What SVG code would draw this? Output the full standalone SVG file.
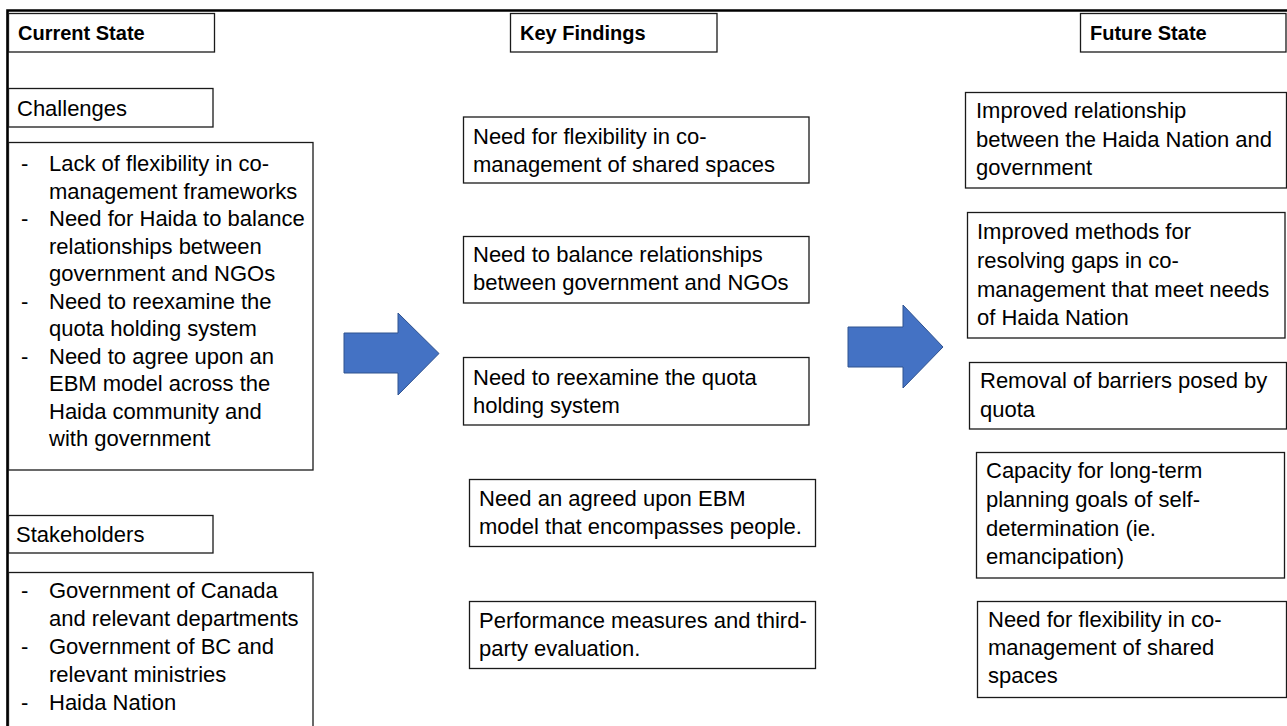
<svg xmlns="http://www.w3.org/2000/svg" width="1287" height="726" viewBox="0 0 1287 726">
  <style>
    .box { fill: #ffffff; stroke: #1a1a1a; stroke-width: 1.3; }
    .frame { fill: none; stroke: #000000; stroke-width: 2.6; }
    .t { font-family: "Liberation Sans", Arial, sans-serif; font-size: 22px; fill: #000000; }
    .h { font-family: "Liberation Sans", Arial, sans-serif; font-size: 20px; font-weight: bold; fill: #000000; }
    .arrow { fill: #4472C4; stroke: #2F528F; stroke-width: 1; }
  </style>

  <rect width="1287" height="726" fill="#ffffff"/>

  <!-- outer frame: top and left rules -->
  <path class="frame" d="M7.5,740 V10.5 H1290"/>

  <!-- column headings -->
  <g id="current-state">
    <rect class="box" x="8.5" y="13.5" width="206" height="38.5"/>
    <text class="h" x="18" y="40">Current State</text>
  </g>
  <g id="key-findings">
    <rect class="box" x="510.5" y="13.5" width="206.5" height="38.5"/>
    <text class="h" x="520" y="40">Key Findings</text>
  </g>
  <g id="future-state">
    <rect class="box" x="1080.5" y="13.5" width="205.5" height="38.5"/>
    <text class="h" x="1090" y="40">Future State</text>
  </g>

  <!-- current state column -->
  <g id="challenges">
    <rect class="box" x="8.5" y="88.5" width="204.5" height="38.5"/>
    <text class="t" x="17" y="116">Challenges</text>
  </g>
  <g id="challenges-list">
    <rect class="box" x="8.5" y="142.5" width="304.5" height="327.5"/>
    <g class="t">
      <text x="21" y="171">-</text>
      <text x="49" y="171">Lack of flexibility in co-</text>
      <text x="49" y="198.5">management frameworks</text>
      <text x="21" y="226">-</text>
      <text x="49" y="226">Need for Haida to balance</text>
      <text x="49" y="253.5">relationships between</text>
      <text x="49" y="281">government and NGOs</text>
      <text x="21" y="308.5">-</text>
      <text x="49" y="308.5">Need to reexamine the</text>
      <text x="49" y="336">quota holding system</text>
      <text x="21" y="363.5">-</text>
      <text x="49" y="363.5">Need to agree upon an</text>
      <text x="49" y="391">EBM model across the</text>
      <text x="49" y="418.5">Haida community and</text>
      <text x="49" y="446">with government</text>
    </g>
  </g>
  <g id="stakeholders">
    <rect class="box" x="8.5" y="515.5" width="204.5" height="37.5"/>
    <text class="t" x="16" y="542">Stakeholders</text>
  </g>
  <g id="stakeholders-list">
    <rect class="box" x="8.5" y="572.5" width="304.5" height="170"/>
    <g class="t">
      <text x="21" y="598">-</text>
      <text x="49" y="598">Government of Canada</text>
      <text x="49" y="626">and relevant departments</text>
      <text x="21" y="654">-</text>
      <text x="49" y="654">Government of BC and</text>
      <text x="49" y="682">relevant ministries</text>
      <text x="21" y="710">-</text>
      <text x="49" y="710">Haida Nation</text>
    </g>
  </g>

  <!-- key findings column -->
  <g id="finding-flexibility">
    <rect class="box" x="463.5" y="117" width="345.5" height="66"/>
    <text class="t" x="473" y="144">Need for flexibility in co-</text>
    <text class="t" x="473" y="172">management of shared spaces</text>
  </g>
  <g id="finding-relationships">
    <rect class="box" x="463.5" y="236.5" width="345.5" height="66.5"/>
    <text class="t" x="473" y="262">Need to balance relationships</text>
    <text class="t" x="473" y="290">between government and NGOs</text>
  </g>
  <g id="finding-quota">
    <rect class="box" x="463.5" y="357.5" width="345.5" height="67.5"/>
    <text class="t" x="473" y="385">Need to reexamine the quota</text>
    <text class="t" x="473" y="413">holding system</text>
  </g>
  <g id="finding-ebm">
    <rect class="box" x="469.5" y="479.5" width="346" height="67"/>
    <text class="t" x="479" y="506">Need an agreed upon EBM</text>
    <text class="t" x="479" y="534">model that encompasses people.</text>
  </g>
  <g id="finding-evaluation">
    <rect class="box" x="469.5" y="601.5" width="346" height="67"/>
    <text class="t" x="479" y="628">Performance measures and third-</text>
    <text class="t" x="479" y="656">party evaluation.</text>
  </g>

  <!-- future state column -->
  <g id="future-relationship">
    <rect class="box" x="965.5" y="92.5" width="321" height="95.5"/>
    <text class="t" x="976" y="118">Improved relationship</text>
    <text class="t" x="976" y="147">between the Haida Nation and</text>
    <text class="t" x="976" y="175">government</text>
  </g>
  <g id="future-methods">
    <rect class="box" x="967.5" y="212.5" width="317.5" height="125.5"/>
    <text class="t" x="977" y="239">Improved methods for</text>
    <text class="t" x="977" y="268">resolving gaps in co-</text>
    <text class="t" x="977" y="297">management that meet needs</text>
    <text class="t" x="977" y="325">of Haida Nation</text>
  </g>
  <g id="future-quota">
    <rect class="box" x="969.5" y="362.5" width="317" height="66.5"/>
    <text class="t" x="980" y="388">Removal of barriers posed by</text>
    <text class="t" x="980" y="417">quota</text>
  </g>
  <g id="future-capacity">
    <rect class="box" x="976.5" y="452.5" width="308" height="125.5"/>
    <text class="t" x="986" y="478">Capacity for long-term</text>
    <text class="t" x="986" y="507">planning goals of self-</text>
    <text class="t" x="986" y="536">determination (ie.</text>
    <text class="t" x="986" y="564">emancipation)</text>
  </g>
  <g id="future-flexibility">
    <rect class="box" x="977.5" y="601.5" width="309" height="96"/>
    <text class="t" x="988" y="627">Need for flexibility in co-</text>
    <text class="t" x="988" y="655">management of shared</text>
    <text class="t" x="988" y="683">spaces</text>
  </g>

  <!-- connectors: block arrows between columns -->
  <g id="connectors">
    <path class="arrow" d="M344,333 H398 V313 L439,353.5 L398,395 V373 H344 Z"/>
    <path class="arrow" d="M848,327 H903 V305 L943,347 L903,388 V367 H848 Z"/>
  </g>
</svg>
